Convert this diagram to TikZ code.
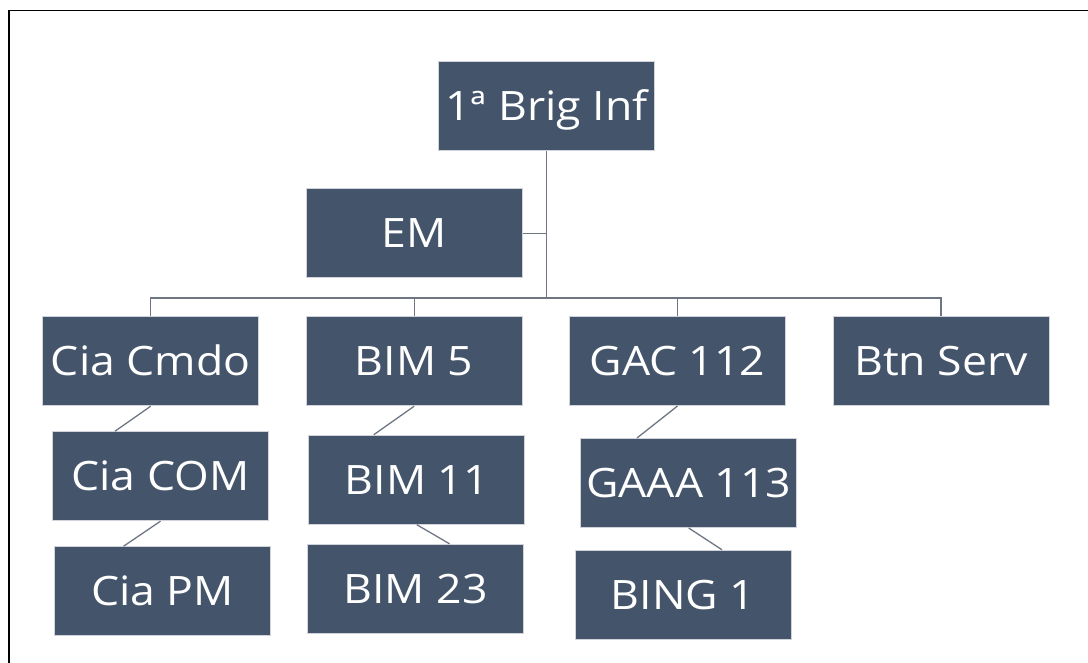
\documentclass[tikz,border=0pt]{standalone}
\usepackage{fontspec}
\setmainfont{Open Sans}[FakeStretch=1.1]
\usetikzlibrary{calc}
\definecolor{UnitClr}{RGB}{68,84,106}
\definecolor{EdgeClr}{RGB}{208,212,218}
\definecolor{LinkClr}{RGB}{110,118,132}

\begin{document}
\begin{tikzpicture}[x=1pt,y=-1pt,
  unit/.style={fill=UnitClr,draw=EdgeClr,line width=1pt,text=white,
    minimum width=216pt,minimum height=89pt,inner sep=0pt,
    text height=29pt,text depth=0pt,font=\fontsize{40.5}{40.5}\selectfont},
  link/.style={draw=LinkClr,line width=1.3pt}]
\useasboundingbox (0,0) rectangle (1088,663);
\draw[line width=1.6pt] (9,663) -- (9,10.7) -- (1088,10.7);

\node[unit] (brig)  at (546.5,106.5) {1ª Brig Inf};
\node[unit] (em)    at (414,233.5)   {EM};
\node[unit] (cmdo)  at (150.7,361.2) {Cia Cmdo};
\node[unit] (com)   at (160.5,476.2) {Cia COM};
\node[unit] (pm)    at (162.6,591.2) {Cia PM};
\node[unit] (bim5)  at (414.2,361.2) {BIM 5};
\node[unit] (bim11) at (416.8,479.7) {BIM 11};
\node[unit] (bim23) at (415.5,588.8) {BIM 23};
\node[unit] (gac)   at (677.5,361)   {GAC 112};
\node[unit] (gaaa)  at (688.7,483)   {GAAA 113};
\node[unit] (bing)  at (683,594.8)   {BING 1};
\node[unit] (btn)   at (941,361.2)   {Btn Serv};

\coordinate (bus) at (546.5,298);
\draw[link] (brig.south) -- (bus);
\draw[link] (em.east) -- (em.east -| bus);
\draw[link] (cmdo.north) |- (bus) -| (btn.north);
\draw[link] (bim5.north) -- (bim5.north |- bus);
\draw[link] (gac.north) -- (gac.north |- bus);

\draw[link] (cmdo.south) -- ([xshift=-45.5pt]com.north);
\draw[link] (com.south) -- ([xshift=-39pt]pm.north);
\draw[link] (bim5.south) -- ([xshift=-43pt]bim11.north);
\draw[link] (bim11.south) -- ([xshift=34pt]bim23.north);
\draw[link] (gac.south) -- ([xshift=-51.7pt]gaaa.north);
\draw[link] (gaaa.south) -- ([xshift=39pt]bing.north);
\end{tikzpicture}
\end{document}
